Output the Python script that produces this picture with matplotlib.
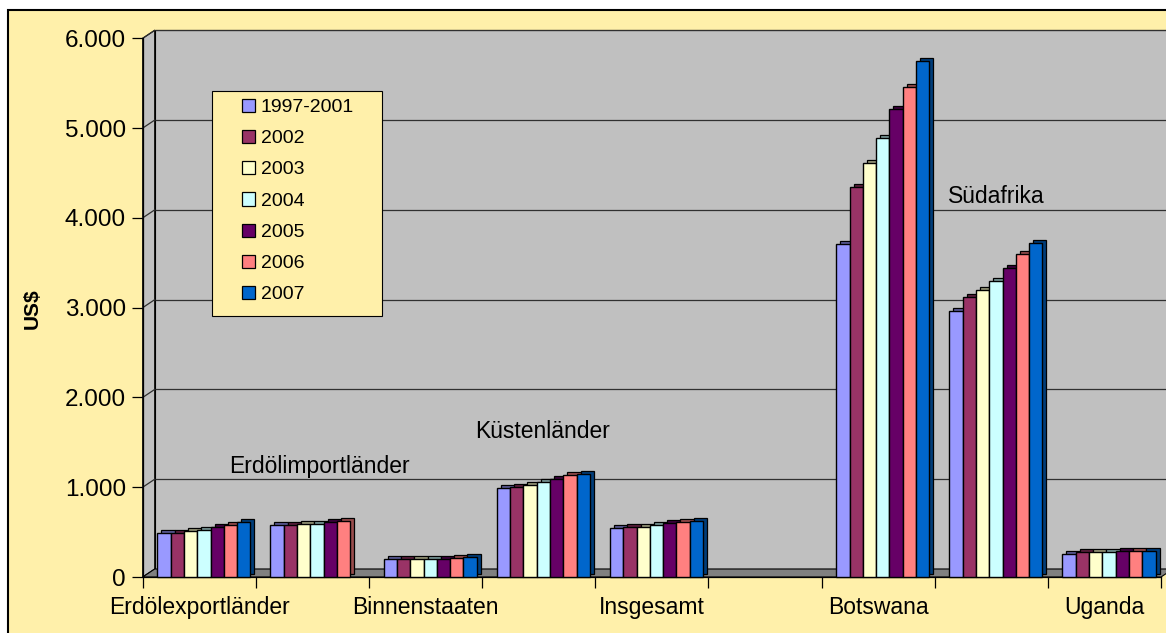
import numpy as np
import matplotlib
matplotlib.use('Agg')
import matplotlib.pyplot as plt
import matplotlib.transforms as mtransforms
import matplotlib.colors as mcolors
from matplotlib.patches import Rectangle, Polygon, Patch
from matplotlib.ticker import FuncFormatter, MultipleLocator

plt.rcParams['font.family'] = ['Liberation Sans', 'DejaVu Sans']

categories = ['Erdölexportländer', 'Erdölimportländer', 'Binnenstaaten', 'Küstenländer',
              'Insgesamt', '', 'Botswana', 'Südafrika', 'Uganda']
years = ['1997-2001', '2002', '2003', '2004', '2005', '2006', '2007']
colors = ['#9999FF', '#993366', '#FFFFCC', '#CCFFFF', '#660066', '#FF8080', '#0066CC']

nan = np.nan
# US$ per category, one list per period (nan = no bar)
v1997_2001 = [490, 580, 205, 990, 545, nan, 3705, 2965, 255]
v2002 = [490, 580, 205, 1005, 557, nan, 4340, 3120, 280]
v2003 = [510, 595, 205, 1028, 560, nan, 4607, 3196, 275]
v2004 = [527, 595, 205, 1054, 579, nan, 4895, 3300, 275]
v2005 = [560, 615, 205, 1090, 598, nan, 5215, 3444, 295]
v2006 = [580, 627, 210, 1133, 612, nan, 5460, 3594, 290]
v2007 = [615, nan, 225, 1148, 627, nan, 5750, 3716, 293]
series = [v1997_2001, v2002, v2003, v2004, v2005, v2006, v2007]

W, H = 1166, 633
yellow = '#FFF0AA'
wall = '#C0C0C0'

fig = plt.figure(figsize=(W / 100, H / 100), dpi=100)
fig.patch.set_facecolor('white')
# chart area
fig.patches.append(Rectangle((8 / W, -0.02), 1.0, 1 - 10 / H + 0.02, transform=fig.transFigure,
                             facecolor=yellow, edgecolor='black', lw=1.5, zorder=-1))

ax = fig.add_axes([142.7 / W, (H - 577) / H, 1018.3 / W, (577 - 38.3) / H])
ax.set_xlim(-0.5, 8.5)
ax.set_ylim(0, 6000)
ax.patch.set_visible(False)

# fake 3d walls
DX, DY = 12, 8
depth = mtransforms.ScaledTranslation(DX / 100, DY / 100, fig.dpi_scale_trans)
dxa = DX / 1018.3
dya = DY / 538.7
ax.add_patch(Rectangle((0, 0), 1, 1, transform=ax.transAxes + depth, facecolor=wall,
                       edgecolor='black', lw=0.8, zorder=0.1, clip_on=False))
ax.add_patch(Polygon([(0, 0), (dxa, dya), (dxa, 1 + dya), (0, 1)], transform=ax.transAxes,
                     facecolor=wall, edgecolor='black', lw=0.8, zorder=0.2, clip_on=False))
ax.add_patch(Polygon([(0, 0), (1, 0), (1 + dxa, dya), (dxa, dya)], transform=ax.transAxes,
                     facecolor='#808080', edgecolor='black', lw=0.8, zorder=0.3, clip_on=False))

yt = np.arange(1000, 6001, 1000)
ax.hlines(yt, 0, 1, transform=ax.get_yaxis_transform() + depth, colors='#303030',
          lw=0.9, zorder=0.4, clip_on=False)
for v in yt:
    yf = ax.transLimits.transform((0, v))[1]
    ax.plot([0, dxa], [yf, yf + dya], transform=ax.transAxes, color='#303030', lw=0.9,
            zorder=0.4, clip_on=False)

# bars
x = np.arange(len(categories))
w = 0.1176
shift = 0.041
bar_depth = mtransforms.ScaledTranslation(4 / 100, 3 / 100, fig.dpi_scale_trans)
for j, (vals, c) in enumerate(zip(series, colors)):
    vals = np.array(vals, dtype=float)
    m = ~np.isnan(vals)
    pos = x[m] + shift + (j - 3) * w
    dark = tuple(np.array(mcolors.to_rgb(c)) * 0.6)
    ax.bar(pos, vals[m], w, color=dark, edgecolor='black', lw=0.9,
           transform=ax.transData + bar_depth, zorder=2, clip_on=False)
    ax.bar(pos, vals[m], w, color=c, edgecolor='black', lw=1.0, zorder=3, clip_on=False)

# group names not shown on the axis
ax.text(1.06, 1160, categories[1], ha='center', va='baseline', fontsize=16.5, zorder=4)
ax.text(3.03, 1548, categories[3], ha='center', va='baseline', fontsize=16.5, zorder=4)
ax.text(7.046, 4165, categories[7], ha='center', va='baseline', fontsize=16.5, zorder=4)

# axes
for s in ['top', 'right']:
    ax.spines[s].set_visible(False)
for s in ['left', 'bottom']:
    ax.spines[s].set_color('black')
    ax.spines[s].set_linewidth(0.9)

ax.yaxis.set_major_locator(MultipleLocator(1000))
ax.yaxis.set_major_formatter(FuncFormatter(lambda v, p: f'{int(v):,}'.replace(',', '.')))
ax.tick_params(axis='y', direction='out', length=8, width=0.9, pad=4, labelsize=17.5)
ax.set_xticks(x[::2], [categories[i] for i in x[::2]])
ax.set_xticks(np.arange(-0.5, 9, 1), minor=True)
ax.tick_params(axis='x', which='major', length=0, pad=13.5, labelsize=16.5)
ax.tick_params(axis='x', which='minor', direction='out', length=8, width=0.9)

ax.set_ylabel('US$', fontsize=15, fontweight='bold')
ax.yaxis.label.set_va('center')
ax.yaxis.set_label_coords(-0.1087, 0.4975)

# legend
fig.patches.append(Rectangle((211.7 / W, 1 - 316 / H), (382.3 - 211.7) / W, (316 - 91) / H,
                             transform=fig.transFigure, facecolor=yellow, edgecolor='black',
                             lw=0.8, zorder=4))
handles = [Patch(facecolor=c, edgecolor='black', lw=0.9) for c in colors]
fig.legend(handles, years, loc='center', bbox_to_anchor=(298 / W, 1 - 201 / H),
           frameon=False, fontsize=14, handlelength=0.67, handleheight=0.67,
           handletextpad=0.3, labelspacing=0.71, borderpad=0)

fig.savefig('out.png', dpi=100)
